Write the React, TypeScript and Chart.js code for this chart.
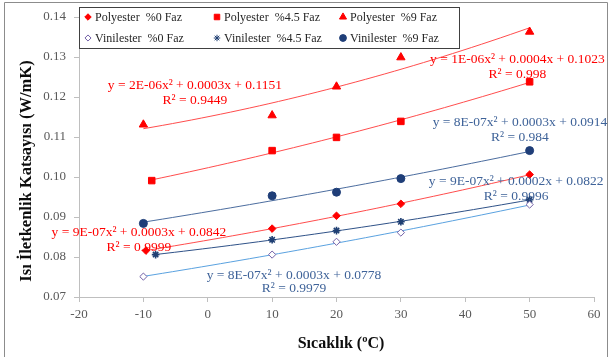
import React, { useEffect, useRef } from "react";
import { Chart, registerables } from "chart.js";
import { drawPoint } from "chart.js/helpers";

Chart.register(...registerables);

// ---- data ----
const polyester0X = [-9.6, 10, 20, 30, 50];
const polyester0Y = [0.0816, 0.0871, 0.0903, 0.0933, 0.1006];
const polyester45X = [-8.7, 10, 20, 30, 50];
const polyester45Y = [0.0991, 0.1066, 0.1099, 0.1139, 0.1238];
const polyester9X = [-10, 10, 20, 30, 50];
const polyester9Y = [0.1131, 0.1154, 0.1226, 0.1299, 0.1363];
const vinilester0X = [-10, 10, 20, 30, 50];
const vinilester0Y = [0.0751, 0.0806, 0.0838, 0.0861, 0.0931];
const vinilester45X = [-8.1, 10, 20, 30, 50];
const vinilester45Y = [0.0806, 0.0843, 0.0866, 0.0888, 0.0943];
const vinilester9X = [-10, 10, 20, 30, 50];
const vinilester9Y = [0.0884, 0.0953, 0.0962, 0.0996, 0.1066];

const seriesNames = [
  "Polyester  %0 Faz",
  "Polyester  %4.5 Faz",
  "Polyester  %9 Faz",
  "Vinilester  %0 Faz",
  "Vinilester  %4.5 Faz",
  "Vinilester  %9 Faz",
];

const xTicks = [-20, -10, 0, 10, 20, 30, 40, 50, 60];
const yTicks = [0.07, 0.08, 0.09, 0.1, 0.11, 0.12, 0.13, 0.14];

const equationTexts = [
  ["y = 9E-07x² + 0.0003x + 0.0842", "R² = 0.9999"],
  ["y = 1E-06x² + 0.0004x + 0.1023", "R² = 0.998"],
  ["y = 2E-06x² + 0.0003x + 0.1151", "R² = 0.9449"],
  ["y = 8E-07x² + 0.0003x + 0.0778", "R² = 0.9979"],
  ["y = 9E-07x² + 0.0002x + 0.0822", "R² = 0.9996"],
  ["y = 8E-07x² + 0.0003x + 0.0914", "R² = 0.984"],
];

// ---- styles / layout ----
const RED = "#ff0000";
const RED_LINE = "#ff4d4d";
const BLUE_TEXT = "#3f6399";
const styles = [
  { pointStyle: "rectRot", radius: 3.8, fill: RED, stroke: RED, line: RED_LINE, text: RED },
  { pointStyle: "rect", radius: 4.6, fill: RED, stroke: RED, line: RED_LINE, text: RED },
  { pointStyle: "triangle", radius: 4.8, fill: RED, stroke: RED, line: RED_LINE, text: RED },
  { pointStyle: "rectRot", radius: 3.6, fill: "#ffffff", stroke: "#7462a8", line: "#5aa2e0", text: BLUE_TEXT },
  { pointStyle: "star", radius: 3.8, fill: "#1f3f73", stroke: "#1f3f73", line: "#2f5288", text: BLUE_TEXT },
  { pointStyle: "circle", radius: 4, fill: "#1f3e78", stroke: "#1f3e78", line: "#4c6d9f", text: BLUE_TEXT },
];
// label centres, in axis units (x, y of first line; y of second line)
const labelPos = [
  [-10.7, 0.08625, 0.0825],
  [48.1, 0.1295, 0.12575],
  [-2.0, 0.123, 0.11925],
  [13.4, 0.0755, 0.0722],
  [47.9, 0.099, 0.09525],
  [48.5, 0.11375, 0.11],
];
const legendCells = [
  [88, 17],
  [217, 17],
  [343, 17],
  [88, 38],
  [217, 38],
  [343, 38],
];

const allX = [polyester0X, polyester45X, polyester9X, vinilester0X, vinilester45X, vinilester9X];
const allY = [polyester0Y, polyester45Y, polyester9Y, vinilester0Y, vinilester45Y, vinilester9Y];

function quadFit(xs: number[], ys: number[]) {
  // least squares y = a + b x + c x^2
  let s0 = 0, s1 = 0, s2 = 0, s3 = 0, s4 = 0, t0 = 0, t1 = 0, t2 = 0;
  for (let i = 0; i < xs.length; i++) {
    const x = xs[i], y = ys[i];
    s0 += 1; s1 += x; s2 += x * x; s3 += x * x * x; s4 += x * x * x * x;
    t0 += y; t1 += x * y; t2 += x * x * y;
  }
  const M = [
    [s0, s1, s2, t0],
    [s1, s2, s3, t1],
    [s2, s3, s4, t2],
  ];
  for (let c = 0; c < 3; c++) {
    let p = c;
    for (let r = c + 1; r < 3; r++) if (Math.abs(M[r][c]) > Math.abs(M[p][c])) p = r;
    [M[c], M[p]] = [M[p], M[c]];
    for (let r = 0; r < 3; r++) {
      if (r === c) continue;
      const f = M[r][c] / M[c][c];
      for (let k = c; k < 4; k++) M[r][k] -= f * M[c][k];
    }
  }
  const a = M[0][3] / M[0][0], b = M[1][3] / M[1][1], c = M[2][3] / M[2][2];
  return (x: number) => a + b * x + c * x * x;
}

function trendPoints(xs: number[], ys: number[]) {
  const f = quadFit(xs, ys);
  const lo = Math.min(...xs), hi = Math.max(...xs);
  const pts = [];
  const n = 40;
  for (let i = 0; i <= n; i++) {
    const x = lo + ((hi - lo) * i) / n;
    pts.push({ x, y: f(x) });
  }
  return pts;
}

const SERIF = "'Liberation Serif', 'Times New Roman', serif";

function drawMarker(ctx: CanvasRenderingContext2D, i: number, x: number, y: number, scale = 1) {
  const st = styles[i];
  drawPoint(
    ctx,
    { pointStyle: st.pointStyle as any, radius: st.radius * scale, rotation: 0, borderWidth: 1 } as any,
    x,
    y
  );
}

const overlayPlugin = {
  id: "overlay",
  beforeDraw(chart: any) {
    const ctx = chart.ctx;
    ctx.save();
    ctx.fillStyle = "#ffffff";
    ctx.fillRect(0, 0, chart.width, chart.height);
    ctx.strokeStyle = "#8c8c8c";
    ctx.lineWidth = 1;
    ctx.beginPath();
    ctx.moveTo(4.5, chart.height);
    ctx.lineTo(4.5, 2.5);
    ctx.lineTo(607.5, 2.5);
    ctx.lineTo(607.5, chart.height);
    ctx.stroke();
    ctx.restore();
  },
  afterDraw(chart: any) {
    const ctx: CanvasRenderingContext2D = chart.ctx;
    const xs = chart.scales.x, ys = chart.scales.y;
    ctx.save();
    // equations
    ctx.font = `13.5px ${SERIF}`;
    ctx.textAlign = "center";
    ctx.textBaseline = "middle";
    equationTexts.forEach((lines, i) => {
      const [lx, ly1, ly2] = labelPos[i];
      ctx.fillStyle = styles[i].text;
      ctx.fillText(lines[0], xs.getPixelForValue(lx), ys.getPixelForValue(ly1));
      ctx.fillText(lines[1], xs.getPixelForValue(lx), ys.getPixelForValue(ly2));
    });
    // legend
    ctx.fillStyle = "#ffffff";
    ctx.fillRect(79, 7, 380, 41);
    ctx.strokeStyle = "#404040";
    ctx.lineWidth = 1;
    ctx.strokeRect(79.5, 7.5, 380, 41);
    ctx.font = `12px ${SERIF}`;
    ctx.textAlign = "left";
    seriesNames.forEach((name, i) => {
      const [cx, cy] = legendCells[i];
      ctx.fillStyle = styles[i].fill;
      ctx.strokeStyle = styles[i].stroke;
      ctx.lineWidth = 1;
      drawMarker(ctx, i, cx, cy, 0.85);
      ctx.fillStyle = "#262626";
      ctx.fillText(name, cx + 7, cy + 0.5);
    });
    // axis titles
    ctx.fillStyle = "#0d0d0d";
    ctx.font = `bold 16px ${SERIF}`;
    ctx.textAlign = "center";
    ctx.fillText("Sıcaklık (ºC)", 341, 344);
    ctx.translate(27, 171);
    ctx.rotate(-Math.PI / 2);
    ctx.font = `bold 16.5px ${SERIF}`;
    ctx.fillText("Isı İletkenlik Katsayısı (W/mK)", 0, 0);
    ctx.restore();
  },
};

export default function App() {
  const ref = useRef<HTMLCanvasElement | null>(null);
  useEffect(() => {
    document.body.style.margin = "0";
    if (!ref.current) return;
    const datasets: any[] = [];
    allX.forEach((xs, i) => {
      const st = styles[i];
      datasets.push({
        label: seriesNames[i] + " trend",
        data: trendPoints(xs, allY[i]),
        showLine: true,
        borderColor: st.line,
        borderWidth: 1,
        pointRadius: 0,
        fill: false,
        order: 2,
      });
      datasets.push({
        label: seriesNames[i],
        data: xs.map((x, k) => ({ x, y: allY[i][k] })),
        showLine: false,
        pointStyle: st.pointStyle,
        pointRadius: st.radius,
        pointBackgroundColor: st.fill,
        pointBorderColor: st.stroke,
        pointBorderWidth: i === 4 ? 1.6 : 1,
        order: 1,
      });
    });
    const tickFont = { family: SERIF, size: 13 };
    const chart = new Chart(ref.current, {
      type: "scatter",
      data: { datasets },
      plugins: [overlayPlugin],
      options: {
        animation: false,
        responsive: false,
        layout: { padding: { top: 17, right: 17, left: 0, bottom: 0 } },
        plugins: { legend: { display: false }, tooltip: { enabled: false } },
        scales: {
          x: {
            type: "linear",
            min: xTicks[0],
            max: xTicks[xTicks.length - 1],
            afterBuildTicks: (s: any) => {
              s.ticks = xTicks.map((v) => ({ value: v }));
            },
            afterFit: (s: any) => {
              s.height = 60;
            },
            ticks: { font: tickFont, color: "#595959", padding: 5, callback: (v: any) => String(v) },
            grid: { drawOnChartArea: false, drawTicks: true, tickLength: 5, color: "#bfbfbf" },
            border: { color: "#bfbfbf" },
          },
          y: {
            type: "linear",
            min: yTicks[0],
            max: yTicks[yTicks.length - 1],
            afterBuildTicks: (s: any) => {
              s.ticks = yTicks.map((v) => ({ value: v }));
            },
            afterFit: (s: any) => {
              s.width = 79;
            },
            ticks: { font: tickFont, color: "#595959", padding: 8, callback: (v: any) => Number(v).toFixed(2) },
            grid: { drawOnChartArea: false, drawTicks: true, tickLength: 5, color: "#bfbfbf" },
            border: { color: "#bfbfbf" },
          },
        },
      } as any,
    });
    return () => chart.destroy();
  }, []);
  return (
    <div style={{ width: 611, height: 357 }}>
      <canvas ref={ref} width={611} height={357} style={{ display: "block" }} />
    </div>
  );
}
